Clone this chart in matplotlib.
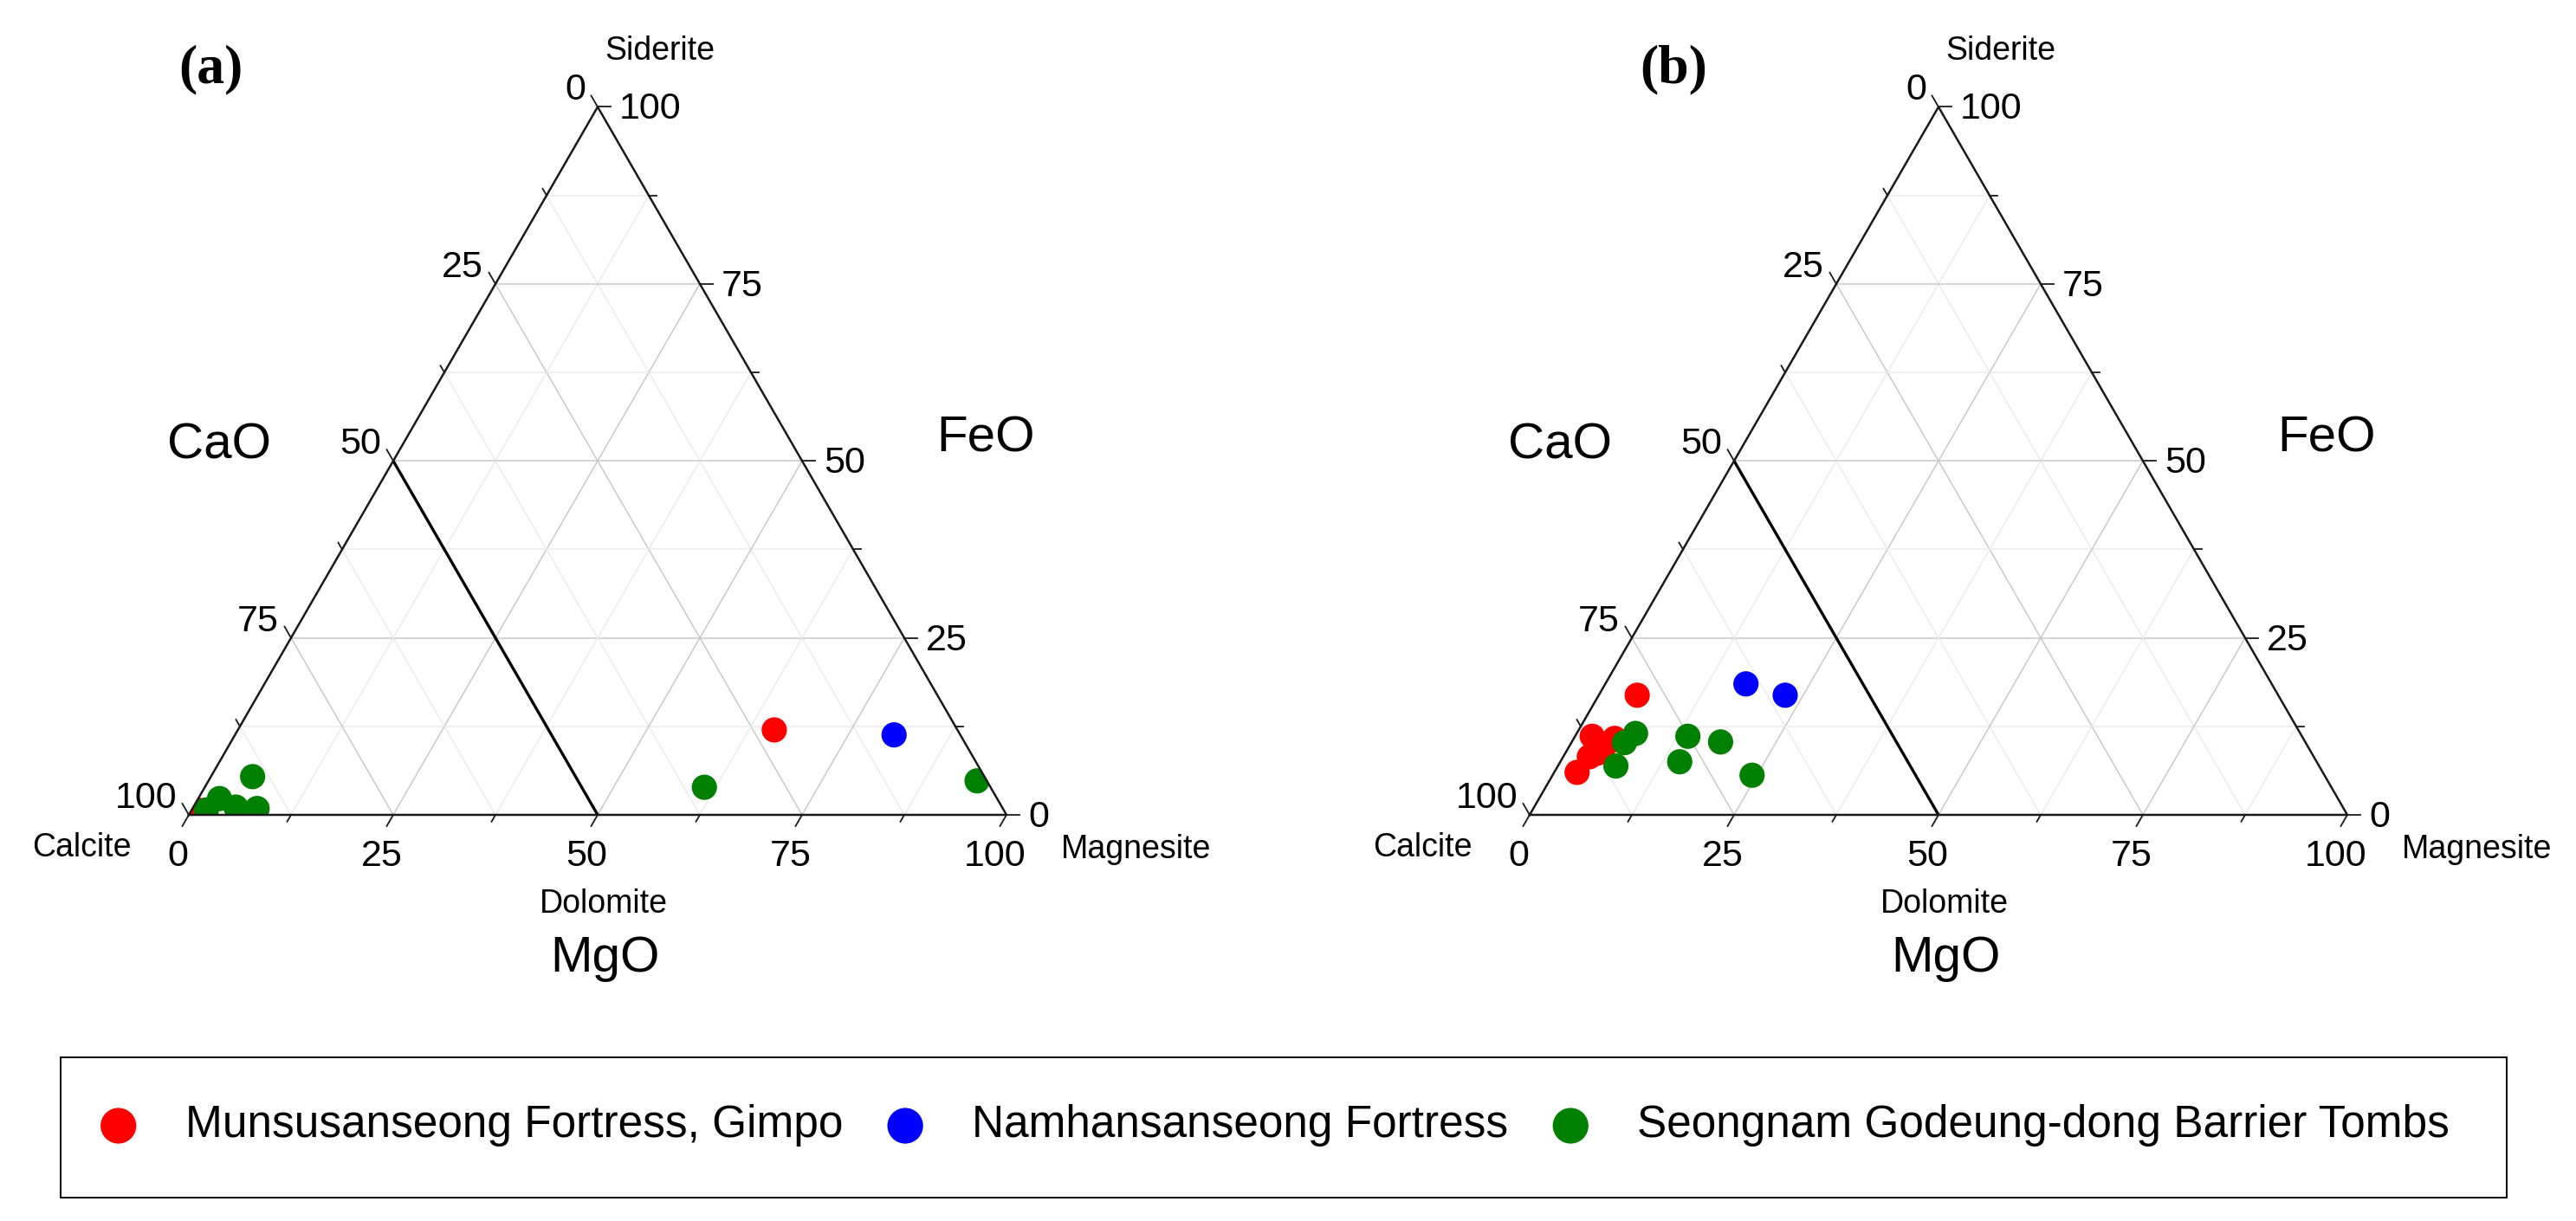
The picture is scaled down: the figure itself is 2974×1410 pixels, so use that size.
import numpy as np
import matplotlib
matplotlib.use('Agg')
import matplotlib.pyplot as plt
from matplotlib.patches import Polygon, Rectangle

plt.rcParams['font.family'] = ['Liberation Sans', 'DejaVu Sans']

# groups shown in the legend
groups = ['Munsusanseong Fortress, Gimpo', 'Namhansanseong Fortress',
          'Seongnam Godeung-dong Barrier Tombs']
colors = ['#ff0000', '#0000ff', '#008000']

# panel (a): CaO / MgO / FeO (normalised %)
a_mun_cao = [22.4, 98.6]
a_mun_mgo = [65.6, 0.7]
a_mun_feo = [12.0, 0.7]
a_nam_cao = [8.1]
a_nam_mgo = [80.6]
a_nam_feo = [11.3]
a_seo_cao = [1.2, 35.0, 89.5, 95.1, 93.7, 91.2, 97.5]
a_seo_mgo = [94.0, 61.1, 5.1, 2.6, 5.2, 7.9, 1.8]
a_seo_feo = [4.8, 3.9, 5.4, 2.3, 1.1, 0.9, 0.7]

# panel (b)
b_mun_cao = [78.4, 86.8, 84.2, 87.4, 91.2, 85.8, 88.6]
b_mun_mgo = [4.7, 2.1, 5.0, 3.9, 2.8, 4.3, 3.2]
b_mun_feo = [16.9, 11.1, 10.8, 8.7, 6.0, 9.9, 8.2]
b_nam_cao = [64.3, 60.3]
b_nam_mgo = [17.2, 22.8]
b_nam_feo = [18.5, 16.9]
b_seo_cao = [81.3, 83.3, 86.0, 75.1, 71.5, 77.9, 70.0]
b_seo_mgo = [7.2, 6.5, 7.1, 13.8, 18.2, 14.6, 24.4]
b_seo_feo = [11.5, 10.2, 6.9, 11.1, 10.3, 7.5, 5.6]

ticks = [0, 12.5, 25, 37.5, 50, 62.5, 75, 87.5, 100]

W, HT = 2974, 1410
PX = 944.0          # pixels per unit side
H = np.sqrt(3) / 2


def xy(mgo, feo):
    mgo = np.asarray(mgo, float)
    feo = np.asarray(feo, float)
    return mgo / 100 + feo / 200, feo / 100 * H


def p(v):
    return v / PX


def draw_panel(fig, left_px, tag, data, with_labels):
    ax = fig.add_axes([left_px / W, (HT - 941) / HT, PX / W, PX * H / HT])
    ax.set_xlim(0, 1)
    ax.set_ylim(0, H)
    ax.axis('off')

    # grid
    for v in ticks[1:-1]:
        c = '#c9c9c9' if v % 25 == 0 else '#ececec'
        for m0, f0, m1, f1 in [(0, v, 100 - v, v), (v, 0, v, 100 - v),
                               (100 - v, 0, 0, 100 - v)]:
            x, y = xy([m0, m1], [f0, f1])
            ax.plot(x, y, color=c, lw=1.1, zorder=1, solid_capstyle='butt')

    tri = Polygon([[0, 0], [1, 0], [0.5, H]], closed=True, transform=ax.transData)

    for (mgo, feo), col, name in zip(data, colors, groups):
        x, y = xy(mgo, feo)
        sc = ax.scatter(x, y, s=21 ** 2, color=col, edgecolors='none', zorder=3,
                        label=name if with_labels else None)
        sc.set_clip_path(tri)

    # dolomite boundary (CaO = 50)
    x, y = xy([0, 50], [50, 0])
    ax.plot(x, y, color='black', lw=2.4, zorder=4, solid_capstyle='butt')

    # frame
    x, y = xy([0, 100, 0, 0], [0, 0, 100, 0])
    ax.plot(x, y, color='#1a1a1a', lw=1.8, zorder=5, clip_on=False)

    fs = 31
    for v in ticks:
        ln = p(15) if v % 25 == 0 else p(9)
        # MgO (bottom)
        x0, y0 = xy(v, 0)
        ax.plot([x0, x0 - 0.5 * ln], [y0, y0 - H * ln], color='#1a1a1a', lw=1.3, clip_on=False)
        # CaO (left)
        xl, yl = xy(0, 100 - v)
        ax.plot([xl, xl - 0.5 * ln], [yl, yl + H * ln], color='#1a1a1a', lw=1.3, clip_on=False)
        # FeO (right)
        xr, yr = xy(100 - v, v)
        ax.plot([xr, xr + ln], [yr, yr], color='#1a1a1a', lw=1.3, clip_on=False)
        if v % 25 == 0:
            lab = f'{v:g}'
            ax.text(x0 - p(13), y0 - p(48), lab, fontsize=fs, ha='center', va='center')
            ax.text(xl - p(14), yl + p(19), lab, fontsize=fs, ha='right', va='center')
            ax.text(xr + p(25), yr - p(3), lab, fontsize=fs, ha='left', va='center')

    cs = 27
    ax.text(-p(66), -p(38), 'Calcite', fontsize=cs, ha='right', va='center')
    ax.text(1 + p(63), -p(40), 'Magnesite', fontsize=cs, ha='left', va='center')
    ax.text(0.5 + p(72), H + p(64), 'Siderite', fontsize=cs, ha='center', va='center')
    ax.text(0.5 + p(7), -p(103), 'Dolomite', fontsize=cs, ha='center', va='center')

    bs = 42
    ax.text(p(35), p(427), 'CaO', fontsize=bs, ha='center', va='center')
    ax.text(1 - p(24), p(434), 'FeO', fontsize=bs, ha='center', va='center')
    ax.text(0.5 + p(8), -p(166), 'MgO', fontsize=bs, ha='center', va='center')

    fig.text(tag[1] / W, 1 - 80 / HT, tag[0], fontsize=46, fontweight='bold',
             family='Liberation Serif', ha='center', va='center')
    return ax


fig = plt.figure(figsize=(W / 100, HT / 100), dpi=100)

data_a = [(a_mun_mgo, a_mun_feo), (a_nam_mgo, a_nam_feo), (a_seo_mgo, a_seo_feo)]
data_b = [(b_mun_mgo, b_mun_feo), (b_nam_mgo, b_nam_feo), (b_seo_mgo, b_seo_feo)]

ax_a = draw_panel(fig, 218, ('(a)', 243), data_a, True)
ax_b = draw_panel(fig, 1766, ('(b)', 1932), data_b, False)

# legend box
fig.patches.append(Rectangle((70 / W, 1 - 1383 / HT), (2894 - 70) / W, (1383 - 1221) / HT,
                             transform=fig.transFigure, fill=False, edgecolor='black', lw=1.4))
h, l = ax_a.get_legend_handles_labels()
fig.legend(h, l, loc='center left', bbox_to_anchor=(111 / W, 1 - 1300 / HT), ncol=3,
           frameon=False, fontsize=37, markerscale=41 / 29, handlelength=1.0,
           handletextpad=1.0, columnspacing=0.9, borderpad=0, borderaxespad=0)

fig.savefig('out.png', dpi=100)
